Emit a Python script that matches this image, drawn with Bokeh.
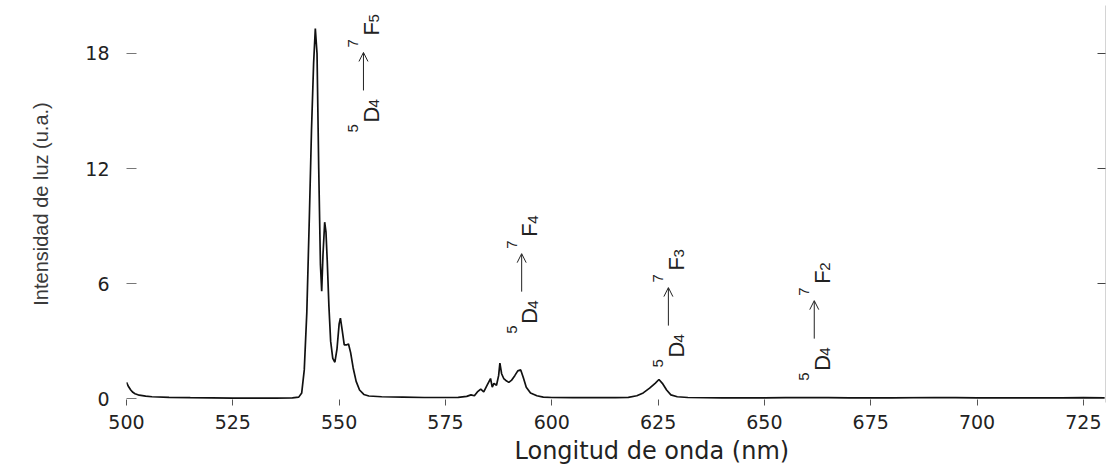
import numpy as np
from bokeh.plotting import figure
from bokeh.models import LinearAxis, FixedTicker, Range1d, Arrow, OpenHead, ColumnDataSource, Title
from bokeh.core.properties import value
from bokeh.embed import file_html
from bokeh.resources import INLINE

# ---- data ----
wavelength = [500.0, 500.5, 501.0, 501.5, 502.0, 503.0, 504.5, 506.0, 510.0, 515.0,
              520.0, 525.0, 530.0, 535.0, 539.0, 540.5, 541.2, 541.8, 542.4, 543.0,
              543.5, 544.0, 544.4, 544.8, 545.2, 545.6, 545.9, 546.2, 546.6, 546.9,
              547.2, 547.6, 548.0, 548.5, 549.0, 549.5, 550.0, 550.3, 550.7, 551.2,
              551.7, 552.2, 552.7, 553.3, 554.0, 554.8, 555.8, 557.0, 560.0, 565.0,
              570.0, 575.0, 578.0, 580.0, 581.0, 581.8, 582.5, 583.3, 584.0, 584.8,
              585.6, 586.0, 586.4, 587.0, 587.5, 587.8, 588.2, 588.7, 589.2, 589.9,
              590.5, 591.3, 592.0, 592.7, 593.3, 594.0, 595.0, 596.5, 598.0, 600.0,
              605.0, 610.0, 615.0, 618.0, 620.0, 621.5, 623.0, 624.3, 625.2, 626.0,
              627.0, 628.0, 629.5, 632.0, 640.0, 650.0, 655.0, 660.0, 665.0, 670.0,
              680.0, 690.0, 695.0, 700.0, 710.0, 720.0, 725.0, 730.0]
intensity = [0.85, 0.62, 0.45, 0.33, 0.26, 0.18, 0.13, 0.10, 0.07, 0.05,
             0.04, 0.03, 0.03, 0.03, 0.04, 0.08, 0.30, 1.50, 4.50, 9.50,
             14.0, 17.5, 19.3, 18.0, 12.0, 7.0, 5.6, 7.5, 9.2, 8.7,
             7.2, 4.8, 3.0, 2.1, 1.9, 2.6, 3.9, 4.2, 3.6, 2.8,
             2.8, 2.85, 2.4, 1.6, 0.9, 0.45, 0.22, 0.14, 0.10, 0.08,
             0.06, 0.06, 0.07, 0.12, 0.20, 0.15, 0.35, 0.50, 0.35, 0.70,
             1.05, 0.60, 0.80, 0.70, 1.20, 1.85, 1.30, 1.05, 0.95, 0.85,
             0.95, 1.20, 1.45, 1.50, 1.10, 0.60, 0.30, 0.15, 0.08, 0.06,
             0.05, 0.05, 0.05, 0.07, 0.15, 0.30, 0.55, 0.80, 1.00, 0.80,
             0.45, 0.20, 0.10, 0.06, 0.04, 0.04, 0.05, 0.06, 0.05, 0.04,
             0.04, 0.06, 0.05, 0.04, 0.04, 0.04, 0.05, 0.04]

x_ticks = [500, 525, 550, 575, 600, 625, 650, 675, 700, 725]
y_ticks = [0, 6, 12, 18]
right_ticks = [6, 12, 18]

# transitions 5D4 -> 7FJ (position = start of the rotated label, on the text baseline)
trans_J = ["5", "4", "3", "2"]
trans_x = [557.6, 594.8, 629.3, 663.6]
trans_y = [13.88, 3.39, 1.62, 0.94]

x_title = "Longitud de onda  (nm)"
y_title = "Intensidad de luz (u.a.)"

x_lo, x_hi = 500.0, 730.2
y_lo, y_hi = -0.2, 20.5
W, H = 1111, 470
b_left, b_right, b_top, b_bottom = 126, 6, 5, 68

p = figure(width=W, height=H, x_range=Range1d(x_lo, x_hi), y_range=Range1d(y_lo, y_hi),
           output_backend="svg", toolbar_location=None,
           min_border_left=b_left, min_border_right=b_right,
           min_border_top=b_top, min_border_bottom=b_bottom)
p.grid.visible = False
p.outline_line_color = None
p.background_fill_color = "white"
p.border_fill_color = "white"

p.line(wavelength, intensity, line_color="#111111", line_width=1.7)

# x axis
xa = p.xaxis[0]
xa.ticker = FixedTicker(ticks=x_ticks)
xa.axis_line_color = None
xa.major_tick_in = 3
xa.major_tick_out = 3
xa.major_tick_line_color = "#555555"
xa.minor_tick_line_color = None
xa.major_label_text_font = "DejaVu Sans"
xa.major_label_text_font_size = "19px"
xa.major_label_text_color = "#222222"
xa.major_label_standoff = 9

# x title as a bottom title, placed a little right of centre like the original
p.add_layout(Title(text=x_title, align="left", offset=388, standoff=7,
                   text_font="DejaVu Sans", text_font_size="24px",
                   text_font_style="normal", text_color="#222222"), "below")

# y axis
ya = p.yaxis[0]
ya.ticker = FixedTicker(ticks=y_ticks)
ya.axis_line_color = None
ya.major_tick_in = 10
ya.major_tick_out = 0
ya.major_tick_line_color = "#777777"
ya.minor_tick_line_color = None
ya.major_label_text_font = "DejaVu Sans"
ya.major_label_text_font_size = "19px"
ya.major_label_text_color = "#222222"
ya.major_label_standoff = 17
ya.axis_label = y_title
ya.axis_label_text_font = "Liberation Sans"
ya.axis_label_text_font_size = "20px"
ya.axis_label_text_font_style = "normal"
ya.axis_label_text_color = "#3a3a3a"
ya.axis_label_standoff = 30

# right axis (frame side, ticks only)
ra = LinearAxis(ticker=FixedTicker(ticks=right_ticks))
ra.axis_line_color = "#d4d4d4"
ra.major_tick_in = 8
ra.major_tick_out = 0
ra.major_tick_line_color = "#444444"
ra.minor_tick_line_color = None
ra.major_label_overrides = {t: "" for t in right_ticks}
ra.major_label_standoff = 0
p.add_layout(ra, "right")

# annotation pieces (pixel layout relative to the start of each label)
fw = W - b_left - b_right
fh = H - b_top - b_bottom
px_nm = fw / (x_hi - x_lo)
px_u = fh / (y_hi - y_lo)

pieces = []
for i, J in enumerate(trans_J):
    parts = [("5", -18, 0, "15px"), ("D", 0, 10, "22px"), ("4", 3, 25, "15px"),
             ("7", -18, 85, "15px"), ("F", 0, 97, "22px"), (J, 3, 110, "15px")]
    for t, dx, d, s in parts:
        pieces.append((trans_x[i], trans_y[i], t, dx, -d, s))

src = ColumnDataSource(dict(
    x=[q[0] for q in pieces], y=[q[1] for q in pieces], text=[q[2] for q in pieces],
    dx=[q[3] for q in pieces], dy=[q[4] for q in pieces], size=[q[5] for q in pieces]))
p.text(x="x", y="y", text="text", x_offset="dx", y_offset="dy", text_font_size="size",
       angle=np.pi / 2, text_font=value("Liberation Sans"), text_color="#222222",
       text_align="left", text_baseline="alphabetic", source=src)

for i in range(len(trans_J)):
    xx = trans_x[i] - 8.0 / px_nm
    p.add_layout(Arrow(end=OpenHead(size=9, line_width=1, line_color="#222222"),
                       x_start=xx, y_start=trans_y[i] + 42 / px_u,
                       x_end=xx, y_end=trans_y[i] + 80 / px_u,
                       line_width=1, line_color="#222222"))

open("out.html", "w").write(file_html(p, INLINE))
